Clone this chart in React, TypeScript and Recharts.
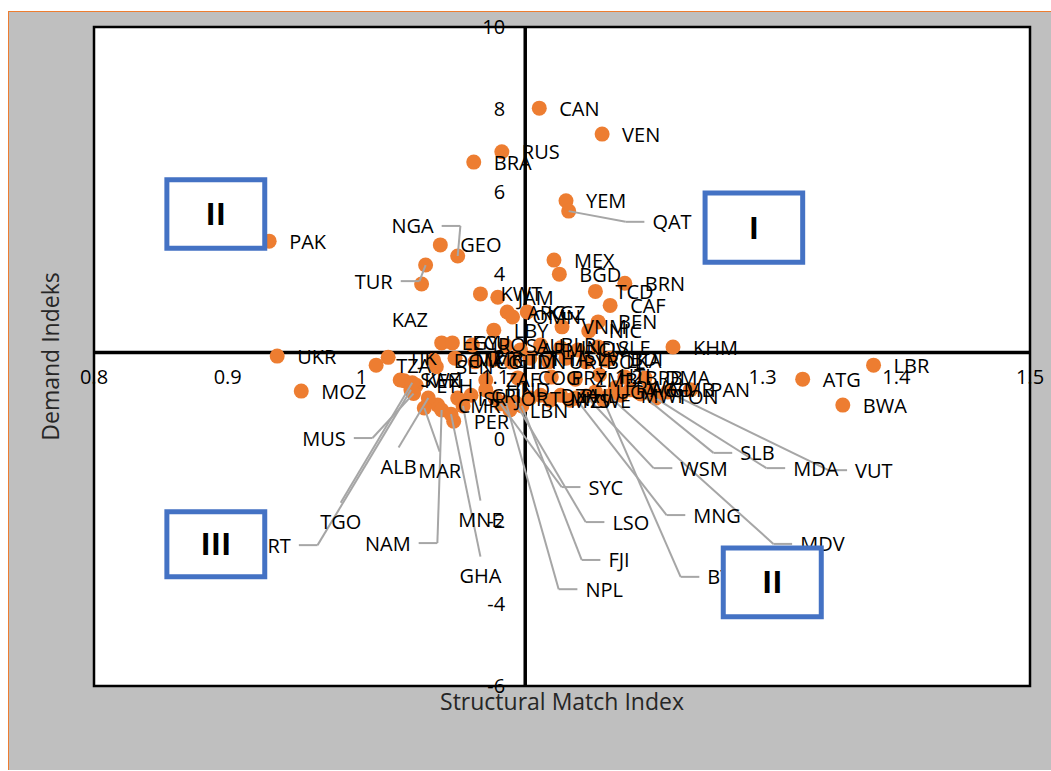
import React from 'react';
import { ScatterChart, Scatter, XAxis, YAxis, ReferenceLine, ReferenceArea, ReferenceDot } from 'recharts';

const FONT = "'Open Sans', 'Noto Sans', sans-serif";

// Countries whose label sits right of the marker
const countryCodes = [
  'CAN','VEN','RUS','BRA','YEM','PAK','GEO','MEX','BGD','BRN',
  'TCD','CAF','BEN','KWT','JAM','ARG','KGZ','OMN','VNM','NIC',
  'LBY','EGY','ECU','IRQ','SAU','ARM','BLR','IND','CIV','SLE',
  'BDI','KHM','DOM','MMR','COL','GTM','IDN','THA','URY','SLV',
  'BOL','LKA','TZA','UKR','TJK','SEN','KEN','ZAF','COG','PRY',
  'ZMB','HTI','BRB','DMA','LBR','ATG','BWA','PAN','TON','MOZ',
  'PER','CMR','ISR','CRI','HND','JOR','LBN','TUN','DZA','MYS',
  'PHL','ZWE','UGA','RWA','MWI','AGO','GMB','ETH','SWZ',
];
const structuralMatch = [
  1.133, 1.180, 1.105, 1.084, 1.153, 0.931, 1.059, 1.144, 1.148, 1.197,
  1.175, 1.186, 1.177, 1.089, 1.102, 1.109, 1.124, 1.113, 1.150, 1.170,
  1.099, 1.060, 1.068, 1.083, 1.108, 1.119, 1.134, 1.149, 1.162, 1.177,
  1.186, 1.233, 1.054, 1.070, 1.085, 1.098, 1.112, 1.126, 1.140, 1.153,
  1.168, 1.183, 1.011, 0.937, 1.020, 1.056, 1.032, 1.093, 1.117, 1.142,
  1.160, 1.178, 1.197, 1.212, 1.383, 1.330, 1.360, 1.246, 1.221, 0.955,
  1.069, 1.057, 1.072, 1.082, 1.093, 1.100, 1.111, 1.126, 1.134, 1.141,
  1.149, 1.156, 1.175, 1.190, 1.194, 1.201, 1.215, 1.041, 1.029,
];
const demandIndex = [
  8.03, 7.40, 6.97, 6.72, 5.78, 4.80, 4.71, 4.34, 4.00, 3.78,
  3.58, 3.24, 2.84, 3.52, 3.44, 3.08, 3.08, 2.96, 2.72, 2.62,
  2.64, 2.33, 2.33, 2.28, 2.26, 2.16, 2.28, 2.21, 2.16, 2.23,
  1.96, 2.23, 1.91, 1.96, 1.87, 1.91, 1.87, 1.96, 1.87, 1.96,
  1.87, 1.91, 1.79, 2.01, 1.98, 1.75, 1.41, 1.43, 1.48, 1.50,
  1.45, 1.55, 1.50, 1.48, 1.79, 1.45, 0.82, 1.19, 1.04, 1.16,
  0.43, 0.82, 0.99, 1.06, 1.19, 0.99, 0.70, 0.99, 1.06, 0.94,
  1.06, 0.94, 1.14, 1.24, 1.06, 1.19, 1.20, 1.30, 1.43,
];

// Countries whose label was moved away, with a leader line
const calloutCodes = ['QAT','NGA','TUR','KAZ','MRT','MUS','TGO','ALB','MAR','NAM','MNE','GHA','SYC','NPL','LSO','FJI','MNG','WSM','BTN','MDV','SLB','MDA','VUT'];
const calloutMatch = [1.155, 1.072, 1.048, 1.045, 1.037, 1.039, 1.038, 1.050, 1.047, 1.060, 1.076, 1.067, 1.104, 1.108, 1.115, 1.120, 1.160, 1.168, 1.181, 1.185, 1.209, 1.220, 1.229];
const calloutDemand = [5.53, 4.44, 4.22, 3.76, 1.19, 1.10, 1.36, 0.99, 0.75, 0.70, 0.80, 0.60, 0.85, 0.89, 0.89, 0.80, 0.99, 1.04, 0.94, 1.04, 1.09, 0.99, 1.14];
const calloutLabelX = [1.2176, 1.054, 1.0234, 1.0226, 0.9472, 0.9883, 0.9845, 1.0278, 1.0585, 1.0368, 1.089, 1.089, 1.1698, 1.1675, 1.1877, 1.1847, 1.2482, 1.2385, 1.2587, 1.3281, 1.2833, 1.3229, 1.3692];
const calloutLabelY = [5.27, 5.17, 3.83, 2.89, -2.58, 0.02, -2.0, -0.66, -0.76, -2.53, -1.95, -3.31, -1.17, -3.65, -2.02, -2.94, -1.85, -0.71, -3.35, -2.55, -0.34, -0.71, -0.76];
const calloutAnchor = ['start','end','end','start','end','end','middle','middle','middle','end','middle','middle','start','start','start','start','start','start','start','start','start','start','start'];
const calloutHasLine = [true, true, true, false, true, true, true, true, true, true, true, true, true, true, true, true, true, true, true, true, true, true, true];

const xTicks = [0.8, 0.9, 1, 1.1, 1.2, 1.3, 1.4, 1.5];
const yTicks = [-6, -4, -2, 0, 2, 4, 6, 8, 10];
const xDomain = [0.8, 1.5];
const yDomain = [-6, 10];
const axisCrossX = 1.1225;
const axisCrossY = 2.1;

const quadrantNames = ['II', 'I', 'III', 'II'];
const quadrantX1 = [0.8545, 1.257, 0.8545, 1.2706];
const quadrantX2 = [0.9277, 1.330, 0.9277, 1.3439];
const quadrantY1 = [4.63, 4.29, -3.35, -4.32];
const quadrantY2 = [6.29, 5.97, -1.77, -2.65];

const points = countryCodes.map((name, i) => ({ name, x: structuralMatch[i], y: demandIndex[i] }));
const calloutPoints = calloutCodes.map((name, i) => ({ name, x: calloutMatch[i], y: calloutDemand[i] }));
const calloutLabels = calloutCodes.map((name, i) => ({ name, x: calloutLabelX[i], y: calloutLabelY[i], anchor: calloutAnchor[i] }));
const allPoints = [...points, ...calloutPoints];

const LABEL_SIZE = 20;
const DotShape = (p: any) => <circle cx={p.cx} cy={p.cy} r={7.5} fill="#ED7D31" />;
const LabelShape = (p: any) => (
  <text x={p.cx + 20} y={p.cy} dominantBaseline="central" fontSize={LABEL_SIZE} fontFamily={FONT} fill="#000">
    {p.payload.name}
  </text>
);
const CalloutLabelShape = (p: any) => (
  <text x={p.cx} y={p.cy} textAnchor={p.payload.anchor} dominantBaseline="central" fontSize={LABEL_SIZE} fontFamily={FONT} fill="#000">
    {p.payload.name}
  </text>
);

function leaderSegments() {
  const out: any[] = [];
  calloutCodes.forEach((c, i) => {
    if (!calloutHasLine[i]) return;
    const px = calloutMatch[i], py = calloutDemand[i];
    const lx = calloutLabelX[i], ly = calloutLabelY[i];
    const a = calloutAnchor[i];
    if (a === 'middle') {
      out.push([{ x: px, y: py }, { x: lx, y: ly + 0.45 }]);
    } else {
      const s = a === 'start' ? -1 : 1;
      const ex = lx + s * 0.02;
      out.push([{ x: px, y: py }, { x: ex, y: ly }]);
      out.push([{ x: ex, y: ly }, { x: lx + s * 0.006, y: ly }]);
    }
  });
  return out;
}

export default function App() {
  const segs = leaderSegments();
  return (
    <div style={{ position: 'absolute', left: 8, top: 11, width: 1043, height: 759, background: '#bfbfbf', borderLeft: '1px solid #ED7D31', borderTop: '1px solid #ED7D31', boxSizing: 'border-box' }}>
      <ScatterChart width={1042} height={758} margin={{ top: 15, right: 21, bottom: 0, left: 0 }}>
        <XAxis
          type="number" dataKey="x" domain={xDomain} allowDataOverflow ticks={xTicks}
          tick={false} axisLine={false} tickLine={false} height={84}
          label={{ value: 'Structural Match Index', position: 'insideTop', offset: 8, fontSize: 23, fill: '#262626', fontFamily: FONT }}
        />
        <YAxis
          type="number" dataKey="y" domain={yDomain} allowDataOverflow ticks={yTicks}
          tick={false} axisLine={false} tickLine={false} width={85}
          label={{ value: 'Demand Indeks', angle: -90, position: 'insideLeft', offset: 42, fontSize: 23, fill: '#262626', fontFamily: FONT, style: { textAnchor: 'middle' } }}
        />
        <ReferenceArea x1={xDomain[0]} x2={xDomain[1]} y1={yDomain[0]} y2={yDomain[1]} fill="#ffffff" fillOpacity={1} stroke="#000" strokeWidth={2.5} ifOverflow="visible" zIndex={-50} />
        <ReferenceLine x={axisCrossX} stroke="#000" strokeWidth={3.5} ifOverflow="visible" zIndex={0} />
        <ReferenceLine y={axisCrossY} stroke="#000" strokeWidth={3.5} ifOverflow="visible" zIndex={0} />
        {xTicks.map((t) => (
          <ReferenceDot key={'xt' + t} x={t} y={axisCrossY} r={0} fill="none" stroke="none" ifOverflow="visible" zIndex={10}
            label={{ value: String(t), position: 'bottom', offset: 17, fontSize: 20, fill: '#000', fontFamily: FONT }} />
        ))}
        {yTicks.map((t) => (
          <ReferenceDot key={'yt' + t} x={axisCrossX} y={t} r={0} fill="none" stroke="none" ifOverflow="visible" zIndex={10}
            label={{ value: String(t), position: 'left', offset: 20, fontSize: 20, fill: '#000', fontFamily: FONT }} />
        ))}
        <Scatter data={allPoints} shape={DotShape} isAnimationActive={false} zIndex={600} />
        {segs.map((s, i) => (
          <ReferenceLine key={'seg' + i} segment={s} stroke="#a6a6a6" strokeWidth={2} ifOverflow="visible" zIndex={650} />
        ))}
        <Scatter data={points} shape={LabelShape} isAnimationActive={false} zIndex={700} />
        <Scatter data={calloutLabels} shape={CalloutLabelShape} isAnimationActive={false} zIndex={700} />
        {quadrantNames.map((q, i) => (
          <ReferenceArea key={'q' + i} x1={quadrantX1[i]} x2={quadrantX2[i]} y1={quadrantY1[i]} y2={quadrantY2[i]}
            fill="#ffffff" fillOpacity={1} stroke="#4472C4" strokeWidth={5} ifOverflow="visible" zIndex={800}
            label={{ value: q, position: 'center', fontSize: 31, fontWeight: 'bold', fill: '#000', fontFamily: FONT }} />
        ))}
      </ScatterChart>
    </div>
  );
}
